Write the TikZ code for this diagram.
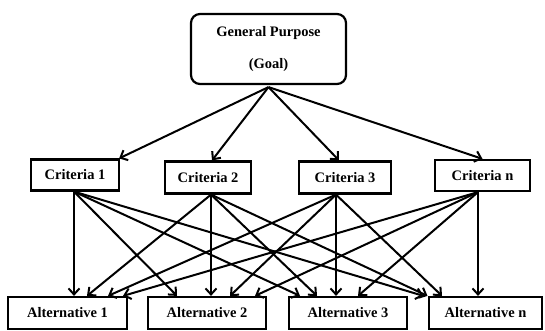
\documentclass[tikz,border=0pt]{standalone}
\usepackage{fontspec}
\setmainfont{Liberation Serif}
\usepackage{tikz}
\usetikzlibrary{arrows.meta}
\tikzstyle{crit}=[draw, line width=2.2pt, inner sep=0pt, font=\bfseries\fontsize{14.5}{17}\selectfont]
\tikzstyle{alt}=[draw, line width=2.2pt, inner sep=0pt, minimum height=32pt, font=\bfseries\fontsize{14.5}{17}\selectfont]
\tikzstyle{con}=[->, line width=2pt]
\tikzset{>={Straight Barb[length=6pt,width=11pt]}}

\begin{document}
\begin{tikzpicture}[x=1pt, y=-1pt]
\useasboundingbox (0,0) rectangle (545,331);
\node[draw, line width=2.2pt, rounded corners=9pt, minimum width=155pt, minimum height=70pt, align=center, font=\bfseries\fontsize{14.5}{32}\selectfont] (G) at (268.5,49) {General Purpose\\(Goal)};
\node[crit, minimum width=88pt, minimum height=31pt] (C1) at (75,175) {Criteria 1};
\node[crit, minimum width=86pt, minimum height=32pt] (C2) at (208,177.5) {Criteria 2};
\node[crit, minimum width=92pt, minimum height=32pt] (C3) at (345,177.5) {Criteria 3};
\node[crit, minimum width=95pt, minimum height=31pt] (Cn) at (482.5,175.5) {Criteria n};
\node[alt, minimum width=119pt] (A1) at (67.5,313) {Alternative 1};
\node[alt, minimum width=118pt] (A2) at (207,313) {Alternative 2};
\node[alt, minimum width=118pt] (A3) at (348,313) {Alternative 3};
\node[alt, minimum width=113pt] (An) at (485.5,313) {Alternative n};
%goal to criteria
\draw[con] ([yshift=-2pt]G.south) -- ([xshift=-1pt]C1.north east);
\draw[con] ([yshift=-2pt]G.south) -- ([xshift=4pt]C2.north);
\draw[con] ([yshift=-2pt]G.south) -- ([xshift=-6pt]C3.north);
\draw[con] ([yshift=-2pt]G.south) -- ([xshift=0pt]Cn.north);
%criteria to alternatives
\draw[con] ([xshift=-1pt]C1.south) -- ([xshift=6.5pt]A1.north);
\draw[con] ([xshift=-1pt]C1.south) -- ([xshift=-30pt]A2.north);
\draw[con] ([xshift=-1pt]C1.south) -- ([xshift=-48pt]A3.north);
\draw[con] ([xshift=-1pt]C1.south) -- ([xshift=-62pt]An.north);
\draw[con] ([xshift=3pt]C2.south) -- ([xshift=19.5pt]A1.north);
\draw[con] ([xshift=3pt]C2.south) -- ([xshift=4pt]A2.north);
\draw[con] ([xshift=3pt]C2.south) -- ([xshift=-31pt]A3.north);
\draw[con] ([xshift=3pt]C2.south) -- ([xshift=-58pt]An.north);
\draw[con] ([xshift=-9pt]C3.south) -- ([xshift=40.5pt]A1.north);
\draw[con] ([xshift=-9pt]C3.south) -- ([xshift=23pt]A2.north);
\draw[con] ([xshift=-9pt]C3.south) -- ([xshift=-12pt]A3.north);
\draw[con] ([xshift=-9pt]C3.south) -- ([xshift=-43.5pt]An.north);
\draw[con] ([xshift=-4.5pt]Cn.south) -- ([xshift=55.5pt]A1.north);
\draw[con] ([xshift=-4.5pt]Cn.south) -- ([xshift=48pt]A2.north);
\draw[con] ([xshift=-4.5pt]Cn.south) -- ([xshift=10pt]A3.north);
\draw[con] ([xshift=-4.5pt]Cn.south) -- ([xshift=-7.5pt]An.north);
\end{tikzpicture}
\end{document}
